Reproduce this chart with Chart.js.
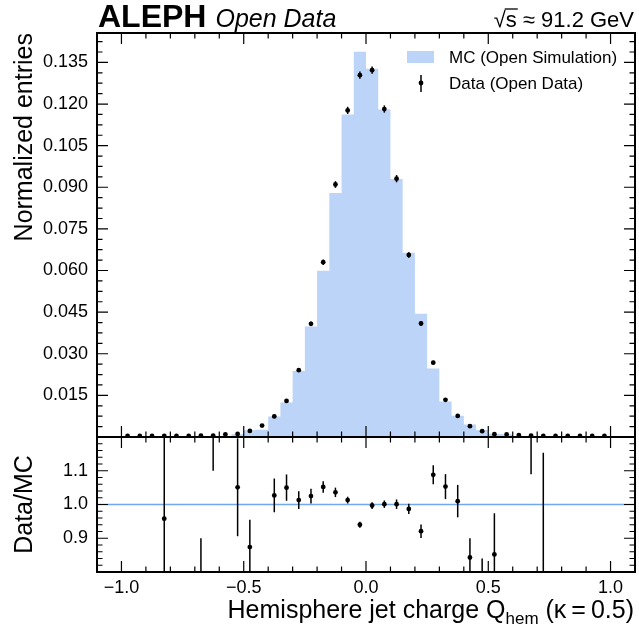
<!DOCTYPE html>
<html>
<head>
<meta charset="utf-8">
<script src="https://cdn.jsdelivr.net/npm/chart.js@4.4.1/dist/chart.umd.min.js"></script>
<style>
  body { margin: 0; background: #fff; }
  #wrap { position: relative; width: 639px; height: 635px; }
  canvas { position: absolute; left: 0; top: 0; }
</style>
</head>
<body>
<div id="wrap">
  <canvas id="mainChart" width="639" height="460"></canvas>
  <canvas id="ratioChart" width="639" height="635"></canvas>
</div>
<script>
// --- data ---
const binCenters = [-0.975, -0.925, -0.875, -0.825, -0.775, -0.725, -0.675, -0.625, -0.575, -0.525,
                    -0.475, -0.425, -0.375, -0.325, -0.275, -0.225, -0.175, -0.125, -0.075, -0.025,
                    0.025, 0.075, 0.125, 0.175, 0.225, 0.275, 0.325, 0.375, 0.425, 0.475,
                    0.525, 0.575, 0.625, 0.675, 0.725, 0.775, 0.825, 0.875, 0.925, 0.975];
const binWidth = 0.05;

const mcValues = [0, 0, 0, 0.0001, 0.0001, 0.0001, 0.0001, 0.0002, 0.0002, 0.0010,
                  0.0024, 0.0026, 0.0074, 0.0124, 0.0238, 0.0398, 0.0599, 0.0879, 0.1162, 0.1388,
                  0.1327, 0.1180, 0.0930, 0.0664, 0.0444, 0.0247, 0.0128, 0.0077, 0.0045, 0.0025,
                  0.0012, 0.0010, 0.0002, 0.0001, 0.0001, 0.0001, 0, 0, 0, 0];

const dataValues = [0.0004, 0.0004, 0.0004, 0.0004, 0.0004, 0.0004, 0.0005, 0.0005, 0.0009, 0.0011,
                    0.0022, 0.0041, 0.0074, 0.0130, 0.0241, 0.0408, 0.0630, 0.0910, 0.1177, 0.1304,
                    0.1322, 0.1182, 0.0931, 0.0656, 0.0409, 0.0268, 0.0134, 0.0076, 0.0039, 0.0021,
                    0.0010, 0.0009, 0.0007, 0.0005, 0.0004, 0.0004, 0.0004, 0.0004, 0.0004, 0.0004];

const dataErrors = [0.0001, 0.0001, 0.0001, 0.0001, 0.0001, 0.0001, 0.0001, 0.0001, 0.0001, 0.0001,
                    0.0002, 0.0002, 0.0003, 0.0004, 0.0006, 0.0008, 0.0010, 0.0012, 0.0013, 0.0013,
                    0.0013, 0.0013, 0.0013, 0.0010, 0.0008, 0.0007, 0.0005, 0.0004, 0.0003, 0.0002,
                    0.0001, 0.0001, 0.0001, 0.0001, 0.0001, 0.0001, 0.0001, 0.0001, 0.0001, 0.0001];

const ratioValues = [null, null, null, 0.958, null, null, 0.65, 1.35, null, 1.051,
                     0.874, null, 1.027, 1.050, 1.013, 1.025, 1.052, 1.036, 1.013, 0.940,
                     0.997, 1.001, 1.001, 0.987, 0.921, 1.088, 1.053, 1.010, 0.843, 0.70,
                     0.852, null, null, 1.45, 0.50, null, null, null, null, null];

const ratioErrors = [0, 0, 0, 0.26, 0, 0, 0.25, 0.25, 0, 0.145,
                     0.081, 0, 0.050, 0.039, 0.026, 0.022, 0.017, 0.014, 0.010, 0.009,
                     0.010, 0.011, 0.014, 0.015, 0.020, 0.028, 0.037, 0.048, 0.057, 0.14,
                     0.122, 0, 0, 0.36, 0.653, 0, 0, 0, 0, 0];

const xRange = [-1.1, 1.1];
const yRangeMain = [0, 0.1456];
const yRangeRatio = [0.8, 1.2];
const xTicks = [-1.0, -0.5, 0.0, 0.5, 1.0];
const yTicksMain = [0.015, 0.030, 0.045, 0.060, 0.075, 0.090, 0.105, 0.120, 0.135];
const yTicksRatio = [0.9, 1.0, 1.1];
const ratioReference = 1.0;

const mcColor = '#bcd4f8';
const refColor = '#6fa8f0';
const fontFamily = '"Liberation Sans", Arial, sans-serif';

Chart.defaults.font.family = fontFamily;
Chart.defaults.color = '#000';

// MC histogram as a stepped line through the bin edges
const mcSteps = binCenters.map((c, i) => ({ x: c - binWidth / 2, y: mcValues[i] }));
mcSteps.push({ x: binCenters[binCenters.length - 1] + binWidth / 2, y: mcValues[mcValues.length - 1] });

const dataPoints = binCenters.map((c, i) => ({ x: c, y: dataValues[i], e: dataErrors[i] }));
const ratioPoints = binCenters
  .map((c, i) => ({ x: c, y: ratioValues[i], e: ratioErrors[i] }))
  .filter(p => p.y !== null);

// vertical error bars, clipped to the plot area
const errorBars = {
  id: 'errorBars',
  afterDatasetsDraw(chart) {
    const { ctx, chartArea: a, scales } = chart;
    ctx.save();
    ctx.beginPath();
    ctx.rect(a.left, a.top, a.right - a.left, a.bottom - a.top);
    ctx.clip();
    ctx.strokeStyle = '#000';
    ctx.lineWidth = 1.5;
    chart.data.datasets.forEach(ds => {
      if (!ds.withErrors) return;
      ds.data.forEach(p => {
        const x = scales.x.getPixelForValue(p.x);
        ctx.beginPath();
        ctx.moveTo(x, scales.y.getPixelForValue(p.y - p.e));
        ctx.lineTo(x, scales.y.getPixelForValue(p.y + p.e));
        ctx.stroke();
      });
    });
    ctx.restore();
  }
};

// box frame with inward major/minor ticks on all four sides
const frameTicks = {
  id: 'frameTicks',
  afterDraw(chart, args, opts) {
    const { ctx, chartArea: a, scales } = chart;
    ctx.save();
    ctx.strokeStyle = '#000';
    ctx.lineWidth = 1.2;
    const drawTicks = (scale, major, minor, horizontal) => {
      const lo = Math.ceil(scale.min / minor - 1e-6);
      const hi = Math.floor(scale.max / minor + 1e-6);
      for (let i = lo; i <= hi; i++) {
        const v = i * minor;
        const r = v / major;
        const len = Math.abs(r - Math.round(r)) < 1e-6 ? 11 : 5.5;
        const p = scale.getPixelForValue(v);
        ctx.beginPath();
        if (horizontal) {
          ctx.moveTo(p, a.bottom); ctx.lineTo(p, a.bottom - len);
          ctx.moveTo(p, a.top); ctx.lineTo(p, a.top + len);
        } else {
          ctx.moveTo(a.left, p); ctx.lineTo(a.left + len, p);
          ctx.moveTo(a.right, p); ctx.lineTo(a.right - len, p);
        }
        ctx.stroke();
      }
    };
    drawTicks(scales.x, opts.xMajor, opts.xMinor, true);
    drawTicks(scales.y, opts.yMajor, opts.yMinor, false);
    ctx.lineWidth = 2;
    ctx.strokeRect(a.left, a.top, a.right - a.left, a.bottom - a.top);
    ctx.restore();
  }
};

// experiment label, energy and legend
const headerText = {
  id: 'headerText',
  afterDraw(chart) {
    const { ctx, chartArea: a } = chart;
    ctx.save();
    ctx.fillStyle = '#000';
    ctx.textBaseline = 'alphabetic';
    ctx.textAlign = 'left';
    ctx.font = 'bold 32px ' + fontFamily;
    ctx.fillText('ALEPH', a.left + 1, 27);
    const wA = ctx.measureText('ALEPH').width;
    ctx.font = 'italic 25px ' + fontFamily;
    ctx.fillText('Open Data', a.left + 1 + wA + 9, 27);

    // sqrt(s) ~ 91.2 GeV, right aligned
    ctx.font = '22px ' + fontFamily;
    const rest = ' \u2248 91.2 GeV';
    const wRoot = ctx.measureText('\u221A').width;
    const wS = ctx.measureText('s').width;
    const wRest = ctx.measureText(rest).width;
    let x = a.right - 1 - (wRoot + wS + wRest);
    ctx.fillText('\u221A', x, 27);
    ctx.fillText('s', x + wRoot, 27);
    ctx.fillText(rest, x + wRoot + wS, 27);
    ctx.strokeStyle = '#000';
    ctx.lineWidth = 1.3;
    ctx.beginPath();
    ctx.moveTo(x + wRoot - 1, 27 - 18);
    ctx.lineTo(x + wRoot + wS + 1, 27 - 18);
    ctx.stroke();

    // legend
    ctx.fillStyle = mcColor;
    ctx.fillRect(407, 51, 27, 12);
    ctx.fillStyle = '#000';
    ctx.font = '17px ' + fontFamily;
    ctx.fillText('MC (Open Simulation)', 449, 63);
    ctx.fillText('Data (Open Data)', 449, 89);
    ctx.lineWidth = 1.5;
    ctx.beginPath();
    ctx.moveTo(421, 75); ctx.lineTo(421, 92);
    ctx.stroke();
    ctx.beginPath();
    ctx.arc(421, 83, 2.4, 0, Math.PI * 2);
    ctx.fill();
    ctx.restore();
  }
};

// x axis title with subscript, right aligned under the ratio panel
const xTitle = {
  id: 'xTitle',
  afterDraw(chart) {
    const { ctx, chartArea: a } = chart;
    const parts = [
      { t: 'Hemisphere jet charge Q', size: 25, dy: 0 },
      { t: 'hem', size: 17, dy: 6 },
      { t: ' (\u03BA\u2009=\u20090.5)', size: 25, dy: 0 }
    ];
    ctx.save();
    ctx.fillStyle = '#000';
    ctx.textBaseline = 'alphabetic';
    let total = 0;
    parts.forEach(p => { ctx.font = p.size + 'px ' + fontFamily; p.w = ctx.measureText(p.t).width; total += p.w; });
    let x = a.right - 1 - total;
    const base = 618;
    parts.forEach(p => {
      ctx.font = p.size + 'px ' + fontFamily;
      ctx.fillText(p.t, x, base + p.dy);
      x += p.w;
    });
    ctx.restore();
  }
};

const fmtMinus = v => v.toFixed(1).replace('-', '\u2212');

// --- upper panel ---
new Chart(document.getElementById('mainChart'), {
  type: 'scatter',
  data: {
    datasets: [
      {
        label: 'Data (Open Data)',
        data: dataPoints,
        withErrors: true,
        pointRadius: 2.4,
        pointBackgroundColor: '#000',
        pointBorderWidth: 0,
        order: 0
      },
      {
        type: 'line',
        label: 'MC (Open Simulation)',
        data: mcSteps,
        stepped: true,
        fill: 'origin',
        backgroundColor: mcColor,
        borderColor: 'rgba(0,0,0,0)',
        borderWidth: 0,
        pointRadius: 0,
        order: 1
      }
    ]
  },
  options: {
    responsive: false,
    animation: false,
    events: [],
    layout: { padding: { top: 33, right: 1, bottom: 23, left: 0 } },
    plugins: {
      legend: { display: false },
      tooltip: { enabled: false },
      frameTicks: { xMajor: 0.5, xMinor: 0.1, yMajor: 0.015, yMinor: 0.00375 }
    },
    scales: {
      x: { type: 'linear', min: xRange[0], max: xRange[1], display: false },
      y: {
        type: 'linear',
        min: yRangeMain[0],
        max: yRangeMain[1],
        afterFit: s => { s.width = 97; },
        afterBuildTicks: s => { s.ticks = yTicksMain.map(v => ({ value: v })); },
        grid: { display: false, drawTicks: false },
        border: { display: false },
        ticks: { padding: 9, font: { size: 18 }, callback: v => v.toFixed(3) },
        title: {
          display: true,
          text: 'Normalized entries',
          align: 'end',
          font: { size: 25 },
          padding: { top: 10, bottom: 0 }
        }
      }
    }
  },
  plugins: [errorBars, frameTicks, headerText]
});

// --- ratio panel ---
new Chart(document.getElementById('ratioChart'), {
  type: 'scatter',
  data: {
    datasets: [
      {
        label: 'Data/MC',
        data: ratioPoints,
        withErrors: true,
        pointRadius: 2.4,
        pointBackgroundColor: '#000',
        pointBorderWidth: 0,
        order: 0
      },
      {
        type: 'line',
        label: 'reference',
        data: [{ x: xRange[0], y: ratioReference }, { x: xRange[1], y: ratioReference }],
        borderColor: refColor,
        borderWidth: 1.5,
        pointRadius: 0,
        fill: false,
        order: 1
      }
    ]
  },
  options: {
    responsive: false,
    animation: false,
    events: [],
    layout: { padding: { top: 437, right: 1, bottom: 0, left: 0 } },
    plugins: {
      legend: { display: false },
      tooltip: { enabled: false },
      frameTicks: { xMajor: 0.5, xMinor: 0.1, yMajor: 0.1, yMinor: 0.02 }
    },
    scales: {
      x: {
        type: 'linear',
        min: xRange[0],
        max: xRange[1],
        afterFit: s => { s.height = 63; },
        afterBuildTicks: s => { s.ticks = xTicks.map(v => ({ value: v })); },
        grid: { display: false, drawTicks: false },
        border: { display: false },
        ticks: { padding: 5, font: { size: 18 }, maxRotation: 0, callback: v => fmtMinus(v) }
      },
      y: {
        type: 'linear',
        min: yRangeRatio[0],
        max: yRangeRatio[1],
        afterFit: s => { s.width = 97; },
        afterBuildTicks: s => { s.ticks = yTicksRatio.map(v => ({ value: v })); },
        grid: { display: false, drawTicks: false },
        border: { display: false },
        ticks: { padding: 9, font: { size: 18 }, callback: v => v.toFixed(1) },
        title: {
          display: true,
          text: 'Data/MC',
          align: 'center',
          font: { size: 25 },
          padding: { top: 10, bottom: 0 }
        }
      }
    }
  },
  plugins: [errorBars, frameTicks, xTitle]
});
</script>
</body>
</html>
